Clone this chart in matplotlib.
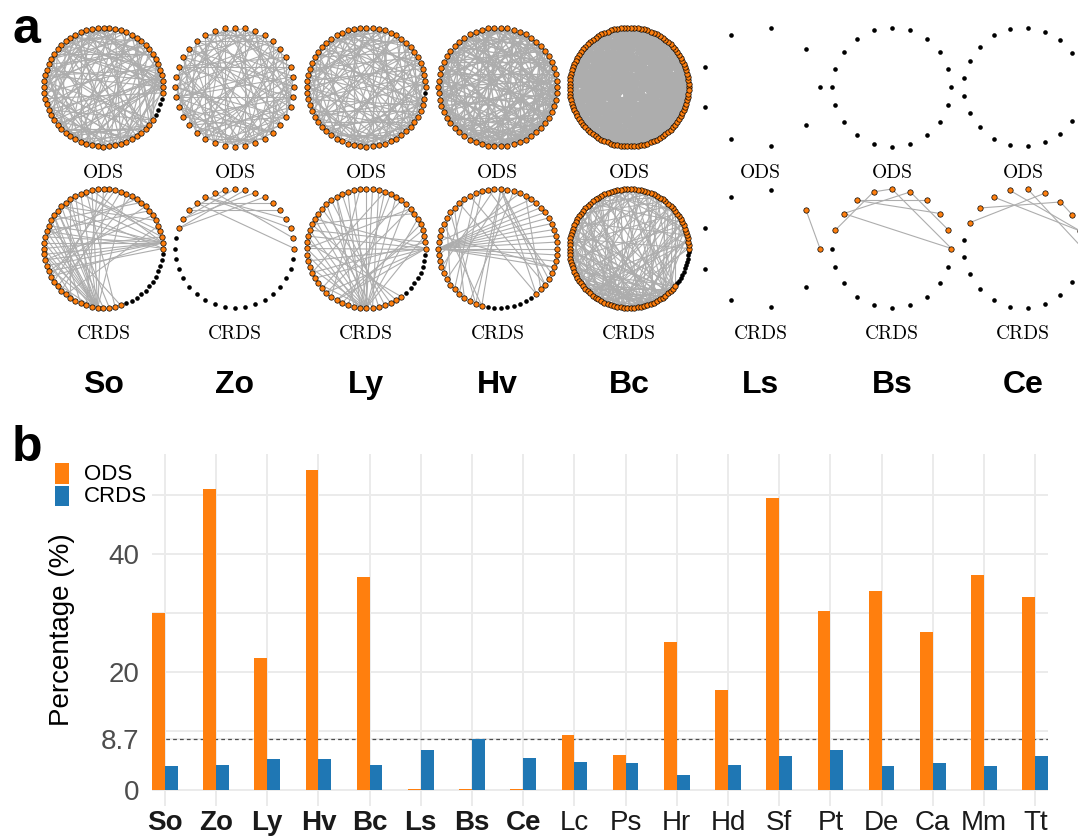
import numpy as np
import matplotlib
matplotlib.use('Agg')
import matplotlib.pyplot as plt
from matplotlib.collections import LineCollection
from matplotlib.patches import Rectangle

plt.rcParams['font.family'] = 'Liberation Sans'

W, H = 1078, 836
ORANGE = '#ff7f0e'
BLUE = '#1f77b4'

# ---- panel b data ----
species = ['So', 'Zo', 'Ly', 'Hv', 'Bc', 'Ls', 'Bs', 'Ce', 'Lc',
           'Ps', 'Hr', 'Hd', 'Sf', 'Pt', 'De', 'Ca', 'Mm', 'Tt']
ods_pct = [29.9, 51.0, 22.3, 54.2, 36.1, 0.2, 0.2, 0.2, 9.4,
           6.0, 25.0, 16.9, 49.4, 30.4, 33.7, 26.8, 36.4, 32.7]
crds_pct = [4.0, 4.3, 5.2, 5.2, 4.3, 6.7, 8.7, 5.5, 4.7,
            4.5, 2.5, 4.3, 5.7, 6.8, 4.1, 4.5, 4.1, 5.7]
n_bold = 8          # species also shown as networks in panel a
threshold = 8.7
ytick_vals = [0, 8.7, 20, 40]
ytick_minor = [10, 30, 50]

# ---- panel a data ----
net_species = species[:8]
net_size = [64, 36, 60, 58, 110, 9, 20, 21]
ods_lw = [0.85, 0.8, 0.85, 1.0, 1.6, 0.8, 0.8, 0.8]

# ODS networks: one ';'-separated neighbour list per node
so_ods = ("17 41;29 52 20 25 36 44;11 38;45 24;33 57;19 47;28 63;40 22;50 31;36 14;"
          "55 27;43 58;30 49;21 58;39 51;26 44;53 35;63 32;42 5;34 56;"
          "48 1;37 63;54 9;46 2;57 12;38 0;50 6;44 13;57 19;41 8;"
          "0 3;47 16;55 10;20 52;63 25;49 7;58 18;4 45;53 15;0 2;"
          "23 56;11 56;29 1;6 54;35 20;57 14;27 9;51 39;12 30;2 43;"
          "36 21;18 3;33 7;24 48;3 40;46 17;28 0;10 42;31 5;;;;;16 50")
zo_ods = ("14 22 9;19 27 30;16 24 11;21 33 8;18 26 29;23 13 31;20 34 15;25 17 32;28 12 19;30 22 35;"
          "24 33 2;27 21 4;31 6 25;29 20 1;34 26 7;23 32 0;28 3 35;30 10 5;33 24 9;27 2 14;"
          "31 11 25;35 7 16;29 4 13;34 1 18;30 8 12;33 3 15;32 0 10;35 6 17;31 5 20;9 16 23;"
          "13 25 2;19 7 21;11 18 27;14 22 1;8 28 4;12 24 19")
ly_ods = ("23 41;35 52;17 44;29 50;38 21;46 27;33 55;19 40;31 57;48 25;"
          "36 53;28 45;42 22;51 34;30 58;39 20;54 32;43 26;37 58;49 3;"
          "56 11;47 8;53 1;35 14;44 57;52 6;40 0;58 16;50 9;41 12;"
          "55 4;45 18;57 2;47 13;56 24;49 7;21 54;10 46;57 27;5 51;"
          "33 15;53 22;1 48;11 58;31 6;25 55;14 36;3 58;20 29;12 38;"
          "39 18;26 8;43 30;15 34;2 44;37 23;9 42;28 19;0 35;")
hv_ods = ("21 39 50;33 14 46;27 44 19;40 12 55;30 48 22;37 16 53;25 42 11;49 31 20;35 56 15;28 43 6;"
          "51 24 38;32 47 2;45 29 57;36 18 52;41 26 8;54 34 1;39 23 48;44 10 56;27 50 5;47 33 12;"
          "38 55 3;52 29 9;40 17 57;46 31 0;53 13 36;49 4 41;34 55 20;43 7 51;56 37 14;45 1 33;"
          "50 19 8;42 54 26;57 15 39;48 6 22;51 10 44;3 46 28;54 21 0;47 11 30;25 52 2;56 13 45;"
          "9 49 31;53 18 4;16 35 57;23 50 1;12 55 38;27 7 52;32 17 54;5 24 40;43 29 11;20 36 56;"
          "15 42 6;39 3 28;8 47 19;34 23 44;0 40 13;30 9 48;22 45 2;26 37 18")
bc_ods = ("37 71 95;54 18 83;66 29 101;44 79 12;58 90 27;33 76 104;49 15 88;62 38 97;81 24 57;46 103 70;"
          "35 64 92;78 52 20;99 41 67;56 85 30;72 43 107;60 93 26;39 84 65;100 53 31;74 45 96;61 87 36;"
          "108 42 68;55 80 34;91 63 47;77 105 50;59 86 40;69 98 48;82 57 106;73 94 51;65 89 44;102 58 75;"
          "83 61 109;70 95 52;88 46 67;97 74 56;62 85 104;79 53 100;90 68 109;81 57 103;96 72 60;86 64 106;"
          "93 75 55;108 84 66;89 71 101;97 78 59;104 87 68;92 73 0;99 80 3;106 85 8;94 76 1;103 82 6;"
          "91 70 2;98 84 9;107 88 13;95 79 4;101 86 16;109 90 11;97 81 22;105 93 7;99 83 19;102 87 14;"
          "94 5 25;108 10 32;100 17 21;96 28 3;105 1 23;98 12 37;107 18 29;103 6 34;92 24 15;109 9 40;"
          "101 27 16;95 33 19;106 2 43;99 11 36;104 26 8;93 31 0;108 13 45;100 20 38;97 4 30;106 17 41;"
          "102 22 7;109 35 14;95 10 49;104 28 5;100 32 21;107 2 39;98 15 42;103 23 9;108 36 0;101 12 47;"
          "105 18 31;96 4 26;109 40 13;102 6 51;107 20 35;99 1 44;104 14 33;108 24 3;105 9 53;27 48 10;"
          "43 5 61;19 37 58;34 8 67;50 21 76;11 42 65;39 16 73;58 29 0;45 7 62;25 54 69;17 46 78")
ls_ods = ""
bs_ods = ""
ce_ods = ""

# CRDS networks: edge list as node pairs
so_crds = ("47-20 47-22 47-24 47-25 47-27 47-28 47-29 47-30 47-31 47-33 47-35 47-12 47-16 47-18 "
           "46-21 46-26 46-32 46-38 1-26 1-28 1-30 1-31 1-33 1-34 1-35 1-37 1-22 1-18 "
           "0-29 0-36 0-24 2-32 2-20 8-36 10-30 13-40 5-24 3-20 44-26 42-22 15-38 6-34 "
           "9-27 11-39 4-41 49-23 50-19 51-28 45-17 43-33 7-29 14-37 48-25")
zo_crds = "16-6 16-8 15-7 15-9 14-4 13-0 12-2 14-10 11-1 12-3 13-5"
ly_crds = ("45-2 45-5 45-8 45-10 45-14 45-15 45-17 45-20 45-22 45-25 45-27 45-30 45-33 45-36 "
           "44-12 44-18 44-28 44-31 46-13 46-24 0-25 0-28 0-30 0-32 0-35 0-38 0-40 1-27 1-34 "
           "7-30 7-38 3-40 4-41 6-26 9-37 11-42 16-39 19-47 21-48 23-49 26-50 29-51 43-20 34-12")
hv_crds = ("29-2 29-4 29-5 29-6 29-7 29-8 29-55 29-56 29-57 29-0 29-1 29-3 "
           "14-40 14-41 14-50 14-52 14-53 10-51 12-39 16-54 18-36 20-33 22-38 24-35 26-31 "
           "28-9 30-11 32-15 34-13 37-17 19-52 21-50 23-40 25-41 27-55")
bc_crds_adj = ("52 77;38;65 21;84;47 29;70;91 33;58;40 76;63;88 26;54;71 35;96;49 67;82;44 93;60;75 39;97;"
               "57 86;43;68 90;51;79 36;62;94 55;46;73 85;59;81 98;66;92 50;74;87 61;53;95 78;69;83 56;64;"
               "89 72;97;78 60;91;70 85;95;80 63;93;75 87;98;82 68;94;76 89;96;84 71;92;79 97;88;73 94;86;"
               "90 77;95;81 98;88;74 93;87;83 96;91;80 97;89;94 2;86;92 14;5;96 20;11;90 31;3;98 25;8;"
               "93 37;17;97 44;1;91 50;13;95 57;7;94 62;19;98 41;27;96 66;4;15;23;9;30;12")
ls_crds = "0-1"
bs_crds = "9-6 8-4 7-3 8-0 5-0 4-1 6-5 2-7"
ce_crds = "8-3 9-4 3-2 7-1 5-0 6-1"


def adj_edges(text):
    pairs = []
    for i, chunk in enumerate(text.split(';')):
        for j in chunk.split():
            pairs.append((i, int(j)))
    return pairs


def pair_edges(text):
    return [tuple(int(v) for v in p.split('-')) for p in text.split()]


ods_edges = [adj_edges(t) for t in [so_ods, zo_ods, ly_ods, hv_ods, bc_ods, ls_ods, bs_ods, ce_ods]]
crds_edges = [pair_edges(so_crds), pair_edges(zo_crds), pair_edges(ly_crds), pair_edges(hv_crds),
              adj_edges(bc_crds_adj), pair_edges(ls_crds), pair_edges(bs_crds), pair_edges(ce_crds)]

# layout of panel a, in pixels
col_x0, col_dx = 103.5, 131.4
row_y = [87.0, 248.5]
R = 59.5


def draw_net(ax, cx, cy, n, edges, lw):
    ang = 2 * np.pi * np.arange(n) / n
    x = cx + R * np.cos(ang)
    y = cy - R * np.sin(ang)
    segs = [[(x[a], y[a]), (x[b], y[b])] for a, b in edges]
    if segs:
        ax.add_collection(LineCollection(segs, colors='#adadad', linewidths=lw, zorder=1))
    deg = np.zeros(n, int)
    for a, b in edges:
        deg[a] += 1
        deg[b] += 1
    on = deg > 0
    ax.scatter(x[~on], y[~on], s=11, c='black', linewidths=0, zorder=2)
    ax.scatter(x[on], y[on], s=15, c=ORANGE, edgecolors='black', linewidths=0.5, zorder=3)


fig = plt.figure(figsize=(W / 100, H / 100), dpi=100)

top = fig.add_axes([0, 0, 1, 1])
top.set_xlim(0, W)
top.set_ylim(H, 0)
top.axis('off')

for k, name in enumerate(net_species):
    cx = col_x0 + k * col_dx
    draw_net(top, cx, row_y[0], net_size[k], ods_edges[k], ods_lw[k])
    draw_net(top, cx, row_y[1], net_size[k], crds_edges[k], 0.8)
    top.text(cx, 173, 'ODS', family='cmr10', fontsize=14, ha='center', va='center')
    top.text(cx, 334, 'CRDS', family='cmr10', fontsize=14, ha='center', va='center')
    top.text(cx, 385, name, fontsize=23, fontweight='bold', ha='center', va='center')

top.text(12, 43, 'a', fontsize=36, fontweight='bold', va='baseline')
top.text(12, 461, 'b', fontsize=36, fontweight='bold', va='baseline')

# legend of panel b
top.add_patch(Rectangle((55, 463), 14, 20.5, color=ORANGE, lw=0))
top.add_patch(Rectangle((55, 485.5), 14, 20.5, color=BLUE, lw=0))
top.text(84, 474, 'ODS', fontsize=16, va='center')
top.text(84, 496, 'CRDS', fontsize=16, va='center')

# ---- panel b ----
ax = fig.add_axes([152 / W, (H - 806) / H, 896 / W, 352 / H])
xs = np.arange(len(species))
ax.bar(xs - 0.125, ods_pct, 0.25, color=ORANGE, zorder=3)
ax.bar(xs + 0.125, crds_pct, 0.25, color=BLUE, zorder=3)
ax.axhline(threshold, color='#4d4d4d', lw=0.9, ls=(0, (3, 2.5)), zorder=2)

ymax = max(ods_pct)
ax.set_ylim(-0.05 * ymax, 1.05 * ymax)
ax.set_xlim(-0.25, len(species) - 0.75)
ax.set_yticks(ytick_vals)
ax.set_yticklabels(['0', '8.7', '20', '40'])
ax.set_yticks(ytick_minor, minor=True)
ax.set_xticks(xs)
ax.set_xticklabels(species)
for i, lab in enumerate(ax.get_xticklabels()):
    if i < n_bold:
        lab.set_fontweight('bold')

ax.grid(True, which='both', color='#ebebeb', lw=1.4)
ax.set_axisbelow(True)
for s in ax.spines.values():
    s.set_visible(False)
ax.tick_params(axis='both', which='both', length=0)
ax.tick_params(axis='y', labelsize=20, labelcolor='#4d4d4d', pad=9)
ax.tick_params(axis='x', labelsize=20, labelcolor='#1a1a1a', pad=3)

fig.text(62 / W, 1 - 630 / H, 'Percentage (%)', rotation=90, fontsize=20,
         ha='center', va='center')

fig.savefig('out.png', dpi=100)
